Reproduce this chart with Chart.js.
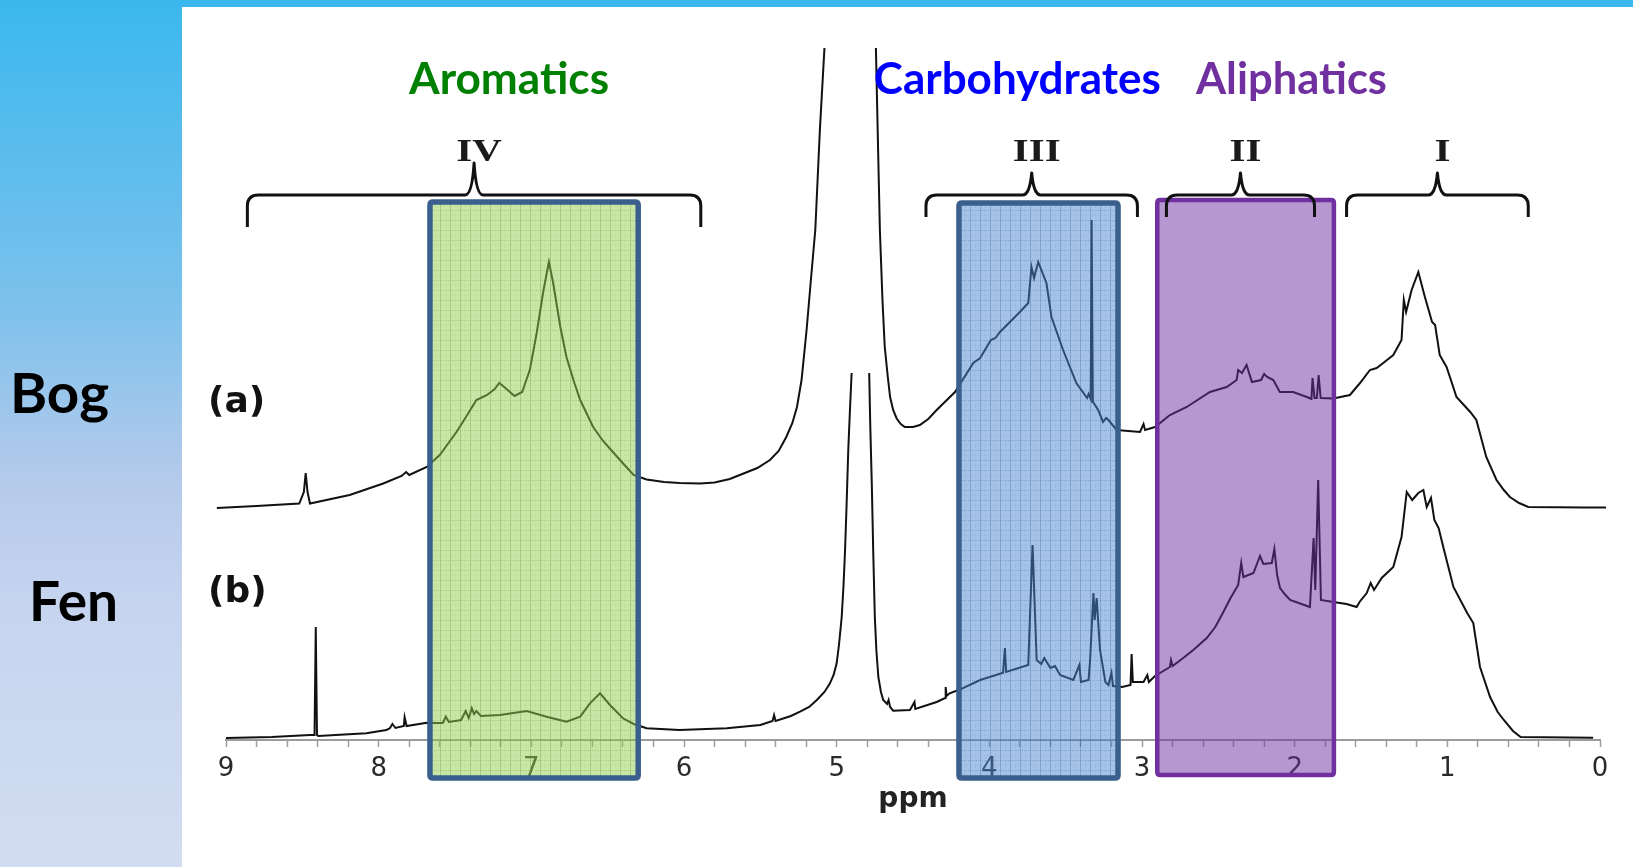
<!DOCTYPE html>
<html>
<head>
<meta charset="utf-8">
<title>1H NMR – Bog vs Fen</title>
<script src="https://cdn.jsdelivr.net/npm/chart.js@4.4.0/dist/chart.umd.min.js"></script>
<style>
  html, body { margin: 0; padding: 0; background: #fff; }
  canvas { display: block; }
</style>
</head>
<body>
<canvas id="nmr" width="1633" height="867"></canvas>
<script>
// labelled ppm ticks; unlabeled minor ticks every 0.2 ppm
const majorTicks = [9, 8, 7, 6, 5, 4, 3, 2, 1, 0];
const minorStep = 0.2;

// (a) Bog – [ppm, intensity above its own baseline]; null = truncated solvent peak
const bogSpectrum = [
  [9.06, 2], [8.80, 4], [8.52, 6.5], [8.49, 18], [8.478, 37], [8.466, 18], [8.45, 6.5],
  [8.19, 15], [7.97, 26.5], [7.85, 34], [7.82, 38], [7.80, 35], [7.685, 43], [7.60, 55],
  [7.49, 78], [7.42, 95], [7.36, 110], [7.29, 115], [7.24, 121], [7.21, 127], [7.17, 122],
  [7.11, 114], [7.06, 118], [7.01, 140], [6.965, 177], [6.92, 220], [6.885, 248],
  [6.857, 227], [6.81, 183], [6.77, 153], [6.72, 128], [6.68, 110], [6.595, 83],
  [6.53, 69], [6.46, 57], [6.39, 45], [6.33, 35], [6.245, 30.5], [6.13, 28], [6.03, 27],
  [5.895, 26.5], [5.80, 27.5], [5.70, 31], [5.61, 36.5], [5.52, 42], [5.437, 50],
  [5.38, 59], [5.33, 73], [5.29, 87], [5.26, 103], [5.23, 130], [5.197, 180],
  [5.17, 228], [5.14, 280], [5.11, 380], [5.08, 462],
  [4.91, null],
  [4.743, 462], [4.73, 370], [4.717, 280], [4.70, 210], [4.685, 163], [4.665, 133],
  [4.65, 113], [4.63, 100], [4.607, 91.5], [4.58, 86], [4.554, 83], [4.50, 83],
  [4.455, 85], [4.40, 91], [4.345, 100], [4.225, 118], [4.105, 147], [4.06, 152],
  [3.99, 170], [3.96, 172], [3.93, 178], [3.80, 198], [3.745, 207], [3.724, 243],
  [3.707, 232], [3.68, 248], [3.626, 227], [3.593, 193], [3.517, 160], [3.43, 127],
  [3.36, 112], [3.35, 116], [3.336, 111], [3.330, 290], [3.322, 108], [3.316, 107],
  [3.287, 100], [3.255, 88], [3.235, 92], [3.22, 90], [3.166, 80], [3.013, 78],
  [2.99, 86], [2.98, 80], [2.915, 83], [2.817, 95], [2.707, 103], [2.555, 118],
  [2.445, 123], [2.38, 130], [2.37, 140], [2.345, 137], [2.315, 145], [2.28, 128],
  [2.22, 130], [2.20, 136], [2.18, 133], [2.14, 130], [2.097, 118], [2.01, 118],
  [1.92, 113], [1.89, 111], [1.883, 132], [1.87, 112], [1.855, 112], [1.843, 135],
  [1.83, 112], [1.747, 111.5], [1.638, 115], [1.572, 127], [1.507, 140], [1.463, 142],
  [1.42, 147], [1.354, 155], [1.30, 170], [1.285, 210], [1.27, 198], [1.234, 220],
  [1.19, 238], [1.147, 213], [1.10, 188], [1.08, 185], [1.05, 155], [1.005, 143],
  [0.94, 113], [0.85, 98], [0.81, 90], [0.745, 53], [0.678, 30], [0.63, 20], [0.59, 13],
  [0.53, 7], [0.47, 3], [0.10, 2.5], [-0.04, 2.5]
];

// (b) Fen – [ppm, intensity]
const fenSpectrum = [
  [9.00, 2], [8.70, 3], [8.45, 5], [8.42, 5], [8.412, 113], [8.404, 5], [8.396, 4],
  [8.08, 6.7], [7.95, 10], [7.927, 11.7], [7.91, 16], [7.89, 12], [7.835, 14],
  [7.83, 22.7], [7.817, 14], [7.685, 17.3], [7.62, 17], [7.58, 17], [7.56, 23.3],
  [7.54, 18], [7.46, 20], [7.43, 29], [7.41, 22], [7.39, 31.7], [7.375, 26], [7.36, 29],
  [7.33, 24], [7.205, 25], [7.03, 29], [6.90, 23.3], [6.77, 18.3], [6.68, 23.3],
  [6.616, 36.7], [6.55, 46.7], [6.485, 35], [6.40, 21.7], [6.33, 16], [6.245, 11.7],
  [6.03, 10], [5.72, 11.7], [5.50, 15], [5.42, 19], [5.41, 25], [5.40, 19], [5.30, 24],
  [5.24, 28.3], [5.18, 33], [5.13, 40], [5.08, 48], [5.044, 56.7], [5.02, 65],
  [5.0, 76.7], [4.985, 95], [4.967, 123], [4.955, 155], [4.945, 190], [4.935, 235],
  [4.924, 290], [4.913, 330], [4.902, 367],
  [4.85, null],
  [4.787, 367], [4.78, 315], [4.77, 257], [4.76, 185], [4.75, 123], [4.74, 90],
  [4.727, 63], [4.71, 48], [4.695, 40], [4.67, 36], [4.66, 40], [4.65, 33], [4.63, 29.3],
  [4.52, 30], [4.49, 38], [4.485, 31], [4.345, 38], [4.29, 42], [4.286, 53], [4.28, 44],
  [4.26, 46.7], [4.19, 50.7], [4.06, 60], [3.91, 67.3], [3.898, 92], [3.89, 68],
  [3.745, 75], [3.717, 195], [3.69, 80], [3.66, 76], [3.64, 82], [3.60, 72], [3.57, 74],
  [3.537, 65], [3.45, 60], [3.41, 75], [3.40, 58], [3.35, 60], [3.34, 80], [3.318, 147],
  [3.31, 120], [3.297, 142], [3.275, 90], [3.24, 58], [3.22, 55], [3.20, 67], [3.19, 54],
  [3.13, 53], [3.075, 55], [3.068, 86], [3.06, 58], [3.01, 58], [2.99, 58], [2.965, 65],
  [2.955, 58], [2.915, 64], [2.817, 73], [2.81, 80], [2.80, 74], [2.73, 82], [2.664, 90],
  [2.576, 102], [2.52, 113], [2.467, 128], [2.42, 142], [2.37, 155], [2.35, 177],
  [2.336, 163], [2.27, 167], [2.227, 184], [2.205, 176], [2.15, 177], [2.133, 191],
  [2.115, 165], [2.096, 152], [2.06, 145], [2.03, 140], [1.90, 133], [1.876, 202],
  [1.865, 150], [1.846, 260], [1.828, 140], [1.747, 138], [1.66, 136], [1.594, 133],
  [1.575, 138], [1.528, 147], [1.502, 157], [1.48, 150], [1.43, 162], [1.354, 173],
  [1.30, 203], [1.266, 248], [1.23, 240], [1.19, 247], [1.157, 250], [1.135, 233],
  [1.107, 242], [1.085, 220], [1.057, 212], [1.025, 192], [0.96, 153], [0.87, 127],
  [0.83, 117], [0.786, 73], [0.72, 43], [0.67, 28], [0.63, 20], [0.57, 9], [0.52, 3],
  [0.045, 2.3]
];

// vertical stacking of trace (a) above trace (b)
const BOG_OFFSET = 230;

// functional group windows (ppm)
const regionNames = ['Aromatics', 'Carbohydrates', 'Aliphatics'];
const regionFrom = [7.664, 4.199, 2.90];
const regionTo = [6.30, 3.157, 1.743];
const regionLabelAt = [7.146, 3.817, 2.021];

// integration ranges I–IV
const braceLabels = ['IV', 'III', 'II', 'I'];
const braceFrom = [8.86, 4.415, 2.84, 1.66];
const braceTo = [5.89, 3.03, 1.87, 0.47];

const regionStyle = [
  { fill: 'rgba(146,208,80,0.5)', grid: 'rgba(80,135,40,0.28)', stroke: '#3a5f8d', lw: 5.5, top: 202, bottom: 778, text: '#008000', textW: 200 },
  { fill: 'rgba(75,135,205,0.5)', grid: 'rgba(40,80,150,0.28)', stroke: '#3a5f8d', lw: 5.5, top: 203, bottom: 778, text: '#0000ff', textW: 287 },
  { fill: 'rgba(112,48,160,0.5)', grid: null, stroke: '#7030a0', lw: 4.5, top: 200, bottom: 775, text: '#7030a0', textW: 191 }
];
const braceDepth = [32, 22, 22, 22];

function gridPattern(ctx, color) {
  const tile = document.createElement('canvas');
  tile.width = 10; tile.height = 10;
  const t = tile.getContext('2d');
  t.fillStyle = color;
  t.fillRect(0, 0, 1, 10);
  for (let i = 0; i < 10; i += 2) t.fillRect(i, 0, 1, 1);
  t.globalAlpha = 0.45;
  for (let i = 1; i < 10; i += 3) t.fillRect(5, i, 1, 1);
  for (let i = 1; i < 10; i += 3) t.fillRect(i, 5, 1, 1);
  return ctx.createPattern(tile, 'repeat');
}

function fitText(ctx, text, cx, baseline, width, font, color) {
  ctx.save();
  ctx.font = font;
  const w = ctx.measureText(text).width;
  ctx.translate(cx, baseline);
  ctx.scale(width / w, 1);
  ctx.fillStyle = color;
  ctx.textAlign = 'center';
  ctx.textBaseline = 'alphabetic';
  ctx.fillText(text, 0, 0);
  ctx.restore();
}

function roundRect(ctx, x, y, w, h, r) {
  ctx.beginPath();
  ctx.moveTo(x + r, y);
  ctx.lineTo(x + w - r, y);
  ctx.quadraticCurveTo(x + w, y, x + w, y + r);
  ctx.lineTo(x + w, y + h - r);
  ctx.quadraticCurveTo(x + w, y + h, x + w - r, y + h);
  ctx.lineTo(x + r, y + h);
  ctx.quadraticCurveTo(x, y + h, x, y + h - r);
  ctx.lineTo(x, y + r);
  ctx.quadraticCurveTo(x, y, x + r, y);
  ctx.closePath();
}

function drawBrace(ctx, x1, x2, y, depth) {
  const xm = (x1 + x2) / 2;
  const r = 11;
  ctx.beginPath();
  ctx.moveTo(x1, y + depth);
  ctx.lineTo(x1, y + r);
  ctx.quadraticCurveTo(x1, y, x1 + r, y);
  ctx.lineTo(xm - 9, y);
  ctx.quadraticCurveTo(xm - 2, y, xm, y - depth);
  ctx.quadraticCurveTo(xm + 2, y, xm + 9, y);
  ctx.lineTo(x2 - r, y);
  ctx.quadraticCurveTo(x2, y, x2, y + r);
  ctx.lineTo(x2, y + depth);
  ctx.stroke();
}

// slide background: gradient side bar, top band, white panel
const backdrop = {
  id: 'backdrop',
  beforeDraw(chart) {
    const ctx = chart.ctx;
    ctx.save();
    ctx.fillStyle = '#ffffff';
    ctx.fillRect(0, 0, chart.width, chart.height);
    const g = ctx.createLinearGradient(0, 0, 0, chart.height);
    g.addColorStop(0, '#3ab8ee');
    g.addColorStop(0.35, '#7cc1ec');
    g.addColorStop(0.55, '#b4caeb');
    g.addColorStop(0.7, '#c6d4ef');
    g.addColorStop(1, '#d2ddf1');
    ctx.fillStyle = g;
    ctx.fillRect(0, 0, 182, chart.height);
    ctx.fillStyle = '#3cb8ee';
    ctx.fillRect(0, 0, chart.width, 7);
    ctx.restore();
  }
};

// region boxes, braces and labels on top of the spectra
const annotations = {
  id: 'annotations',
  afterDraw(chart) {
    const ctx = chart.ctx;
    const xs = chart.scales.x;
    ctx.save();

    regionNames.forEach((name, i) => {
      const s = regionStyle[i];
      const x1 = xs.getPixelForValue(regionFrom[i]);
      const x2 = xs.getPixelForValue(regionTo[i]);
      roundRect(ctx, x1, s.top, x2 - x1, s.bottom - s.top, 3);
      ctx.fillStyle = s.fill;
      ctx.fill();
      if (s.grid) {
        ctx.fillStyle = gridPattern(ctx, s.grid);
        ctx.fill();
      }
      ctx.lineWidth = s.lw;
      ctx.strokeStyle = s.stroke;
      ctx.stroke();
      fitText(ctx, name, xs.getPixelForValue(regionLabelAt[i]), 94, s.textW, 'bold 43px Lato', s.text);
    });

    ctx.strokeStyle = '#111';
    ctx.lineWidth = 3;
    ctx.lineJoin = 'round';
    braceLabels.forEach((lab, i) => {
      const x1 = xs.getPixelForValue(braceFrom[i]);
      const x2 = xs.getPixelForValue(braceTo[i]);
      drawBrace(ctx, x1, x2, 195, braceDepth[i]);
      ctx.save();
      ctx.font = 'bold 32px "Liberation Serif"';
      ctx.translate((x1 + x2) / 2 + 5, 161);
      ctx.scale(1.28, 1);
      ctx.fillStyle = '#1a1a1a';
      ctx.textAlign = 'center';
      ctx.fillText(lab, 0, 0);
      ctx.restore();
    });

    ctx.fillStyle = '#111';
    ctx.font = 'bold 36px "DejaVu Sans"';
    ctx.textAlign = 'left';
    ctx.textBaseline = 'alphabetic';
    ctx.fillText('(a)', 208, 412);
    ctx.fillText('(b)', 208, 602);

    fitText(ctx, 'Bog', 59.5, 413, 99, 'bold 55px Lato', '#000');
    fitText(ctx, 'Fen', 73.5, 621, 89, 'bold 55px Lato', '#000');
    ctx.restore();
  }
};

new Chart(document.getElementById('nmr'), {
  type: 'line',
  data: {
    datasets: [
      {
        label: '(a)',
        data: bogSpectrum.map(([x, y]) => ({ x, y: y === null ? null : y + BOG_OFFSET })),
        borderColor: '#111',
        borderWidth: 2,
        pointRadius: 0,
        tension: 0,
        spanGaps: false,
        clip: false
      },
      {
        label: '(b)',
        data: fenSpectrum.map(([x, y]) => ({ x, y })),
        borderColor: '#111',
        borderWidth: 2,
        pointRadius: 0,
        tension: 0,
        spanGaps: false,
        clip: false
      }
    ]
  },
  options: {
    responsive: false,
    animation: false,
    events: [],
    layout: { padding: { left: 226, right: 33, top: 40, bottom: 0 } },
    plugins: { legend: { display: false }, tooltip: { enabled: false } },
    scales: {
      x: {
        type: 'linear',
        reverse: true,
        min: 0,
        max: 9,
        afterFit(scale) { scale.height = 127; },
        border: { display: true, color: '#9c9c9c', width: 2 },
        grid: { display: true, drawOnChartArea: false, drawTicks: true, tickLength: 7, tickColor: '#9c9c9c', tickWidth: 1.5 },
        ticks: {
          stepSize: minorStep,
          autoSkip: false,
          maxRotation: 0,
          padding: 7,
          color: '#2a2a2a',
          font: { family: 'DejaVu Sans', size: 26 },
          callback(v) {
            const n = Math.round(v);
            return Math.abs(v - n) < 1e-6 && majorTicks.includes(n) ? String(n) : '';
          }
        },
        title: {
          display: true,
          text: 'ppm',
          color: '#222',
          font: { family: 'DejaVu Sans', size: 28, weight: 'bold' },
          padding: { top: 0, bottom: 50 }
        }
      },
      y: { display: false, min: 0, max: 700 }
    }
  },
  plugins: [backdrop, annotations]
});
</script>
</body>
</html>
